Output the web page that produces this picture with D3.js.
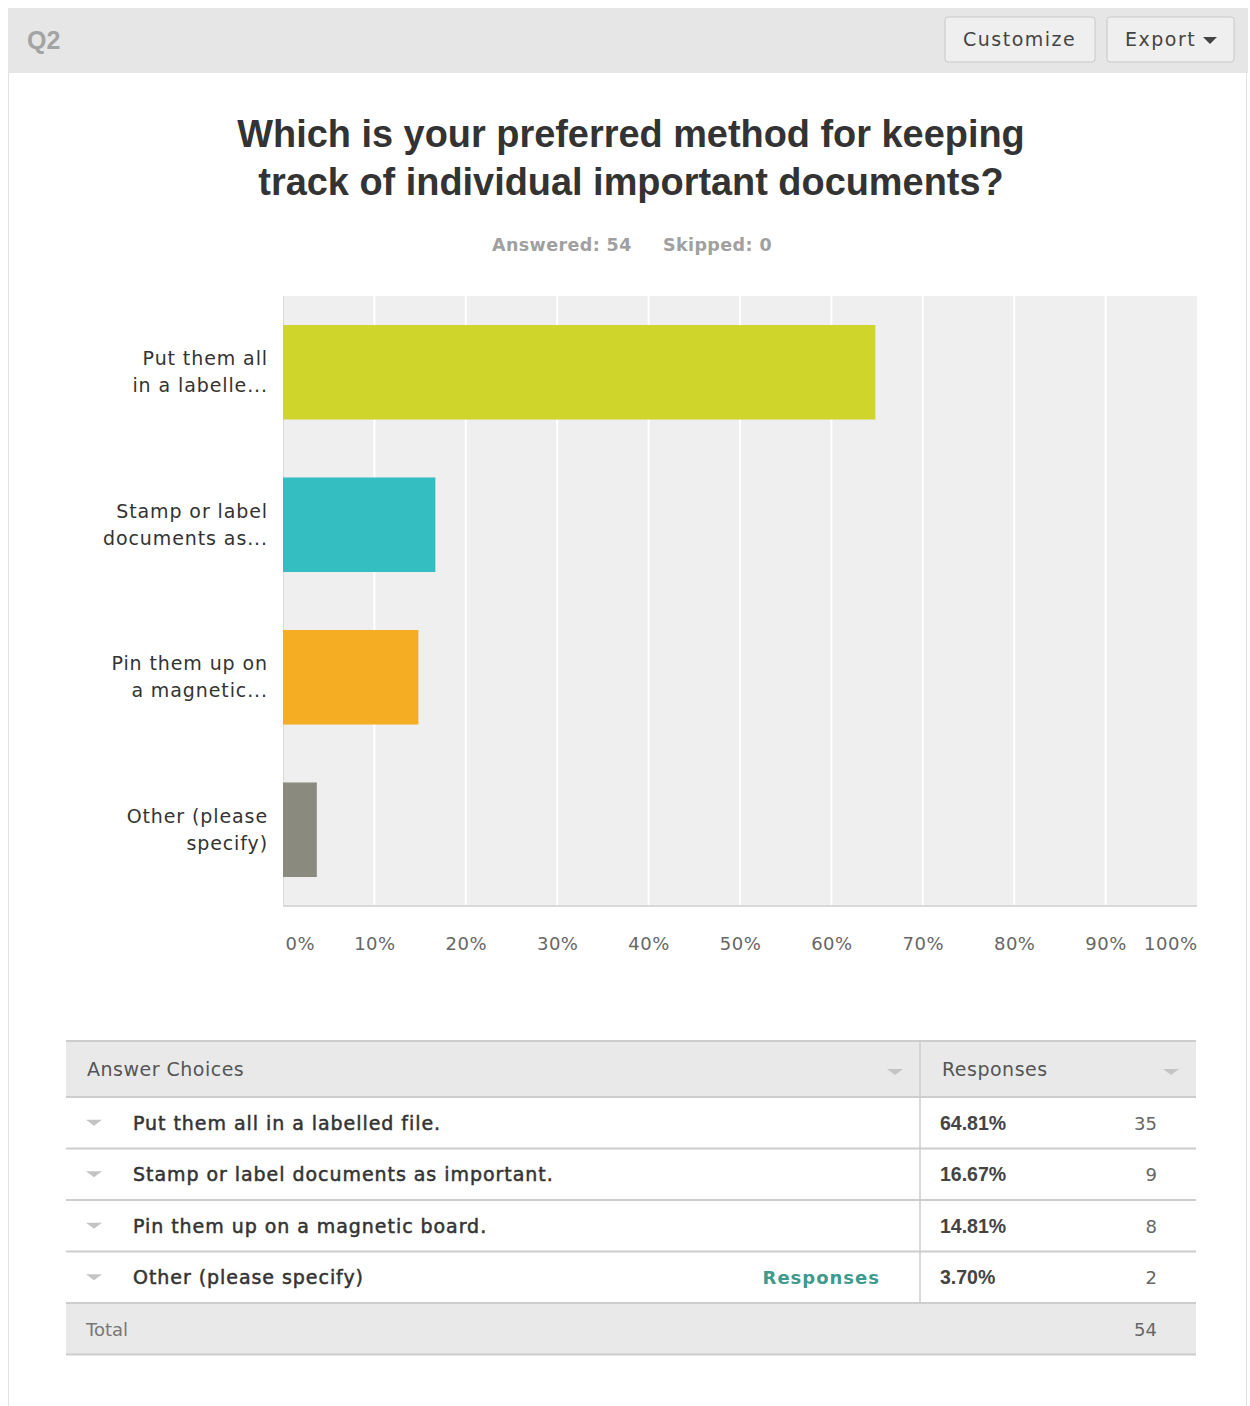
<!DOCTYPE html>
<html>
<head>
<meta charset="utf-8">
<script src="https://cdn.jsdelivr.net/npm/d3@7"></script>
<style>
  html, body { margin: 0; padding: 0; background: #fff; }
  svg { display: block; }
</style>
</head>
<body>
<svg id="chart" width="1250" height="1406"></svg>
<script>
// Survey question Q2 — response shares per answer choice
const shortLabels = [
  ["Put them all", "in a labelle..."],
  ["Stamp or label", "documents as..."],
  ["Pin them up on", "a magnetic..."],
  ["Other (please", "specify)"]
];
const answerChoices = [
  "Put them all in a labelled file.",
  "Stamp or label documents as important.",
  "Pin them up on a magnetic board.",
  "Other (please specify)"
];
const percents = [64.81, 16.67, 14.81, 3.70];
const counts = [35, 9, 8, 2];
const barColors = ["#cfd52a", "#35bec1", "#f5ad23", "#8a8a7e"];
const tickValues = [0, 10, 20, 30, 40, 50, 60, 70, 80, 90, 100];
const answered = 54, skipped = 0, total = 54;

const svg = d3.select("#chart");
const FONT = "'Liberation Sans', Arial, sans-serif";
const TF = "'DejaVu Sans', Verdana, sans-serif";

// panel frame
svg.append("rect").attr("x", 8.5).attr("y", 8.5).attr("width", 1238).attr("height", 1420)
  .attr("fill", "#fff").attr("stroke", "#e2e2e2");
svg.append("rect").attr("x", 8).attr("y", 8).attr("width", 1240).attr("height", 65)
  .attr("fill", "#e6e6e6");
svg.append("text").attr("x", 27).attr("y", 49).text("Q2")
  .attr("font-family", FONT).attr("font-size", 25).attr("font-weight", "bold").attr("fill", "#a3a3a3");

// header buttons
const buttons = [
  { x: 945, w: 150, label: "Customize", caret: false },
  { x: 1107, w: 127, label: "Export", caret: true }
];
const btn = svg.selectAll("g.btn").data(buttons).join("g").attr("class", "btn")
  .attr("transform", d => `translate(${d.x},17)`);
btn.append("rect").attr("width", d => d.w).attr("height", 45).attr("rx", 3)
  .attr("fill", "#efefef").attr("stroke", "#c8c8c8");
btn.append("text").attr("x", 18).attr("y", 29)
  .attr("font-family", TF).attr("font-size", 19).attr("letter-spacing", 1.5).attr("fill", "#444")
  .text(d => d.label);
btn.filter(d => d.caret).append("path").attr("d", "M96,20 L110,20 L103,27 Z").attr("fill", "#444");

// title
svg.append("text").attr("x", 631).attr("text-anchor", "middle")
  .attr("font-family", FONT).attr("font-weight", "bold").attr("font-size", 37.9).attr("fill", "#333")
  .selectAll("tspan").data(["Which is your preferred method for keeping", "track of individual important documents?"])
  .join("tspan").attr("x", 631).attr("y", (d, i) => 147 + i * 48).text(d => d);

svg.append("text").attr("x", 492).attr("y", 251)
  .attr("font-family", TF).attr("font-weight", "bold").attr("font-size", 17.5).attr("letter-spacing", 0.4)
  .attr("fill", "#a0a0a0").text(`Answered: ${answered}`);
svg.append("text").attr("x", 663).attr("y", 251)
  .attr("font-family", TF).attr("font-weight", "bold").attr("font-size", 17.5).attr("letter-spacing", 0.4)
  .attr("fill", "#a0a0a0").text(`Skipped: ${skipped}`);

// bar chart
const plot = { left: 283, right: 1197, top: 296, bottom: 906 };
const x = d3.scaleLinear().domain([0, 100]).range([plot.left, plot.right]);
const y = d3.scaleBand().domain(d3.range(percents.length)).range([plot.top, plot.bottom])
  .paddingInner(0.38).paddingOuter(0.19);

svg.append("rect").attr("x", plot.left).attr("y", plot.top)
  .attr("width", plot.right - plot.left).attr("height", plot.bottom - plot.top).attr("fill", "#efefef");

svg.append("g").selectAll("line").data(tickValues.slice(1, -1)).join("line")
  .attr("x1", d => x(d)).attr("x2", d => x(d)).attr("y1", plot.top).attr("y2", plot.bottom)
  .attr("stroke", "#fff").attr("stroke-width", 2);

svg.append("line").attr("x1", plot.left).attr("x2", plot.right).attr("y1", plot.bottom).attr("y2", plot.bottom)
  .attr("stroke", "#d9d9d9").attr("stroke-width", 2);
svg.append("line").attr("x1", plot.left + 0.5).attr("x2", plot.left + 0.5).attr("y1", plot.top).attr("y2", plot.bottom)
  .attr("stroke", "#dadada");

svg.append("g").selectAll("rect").data(percents).join("rect")
  .attr("x", x(0)).attr("y", (d, i) => y(i))
  .attr("width", d => x(d) - x(0)).attr("height", y.bandwidth())
  .attr("fill", (d, i) => barColors[i]);

// category labels
svg.append("g").selectAll("text").data(shortLabels).join("text")
  .attr("text-anchor", "end").attr("font-family", TF)
  .attr("font-size", 19).attr("letter-spacing", 0.9).attr("fill", "#333")
  .each(function (lines, i) {
    const cy = y(i) + y.bandwidth() / 2;
    d3.select(this).selectAll("tspan").data(lines).join("tspan")
      .attr("x", 268).attr("y", (d, j) => cy - 7 + j * 27).text(d => d);
  });

// x axis
const axis = d3.axisBottom(x).tickValues(tickValues).tickFormat(d => d + "%").tickSize(0).tickPadding(0);
const gx = svg.append("g").attr("transform", `translate(0,${plot.bottom})`).call(axis);
gx.select(".domain").remove();
gx.selectAll("text").attr("font-family", TF).attr("font-size", 18).attr("letter-spacing", 0.5)
  .attr("fill", "#666").attr("dy", 0).attr("y", 44)
  .attr("text-anchor", d => d === 0 ? "start" : d === 100 ? "end" : "middle")
  .attr("dx", d => d === 0 ? 2 : 0);

// response table
const tb = { left: 66, right: 1196, split: 920, top: 1041, headH: 56, rowH: 51.5 };
svg.append("rect").attr("x", tb.left).attr("y", tb.top).attr("width", tb.right - tb.left).attr("height", tb.headH)
  .attr("fill", "#e9e9e9");
const rowsTop = tb.top + tb.headH;
const totalTop = rowsTop + answerChoices.length * tb.rowH;
svg.append("rect").attr("x", tb.left).attr("y", totalTop).attr("width", tb.right - tb.left).attr("height", tb.rowH)
  .attr("fill", "#e9e9e9");

const hLines = [tb.top, rowsTop].concat(d3.range(1, answerChoices.length + 1).map(i => rowsTop + i * tb.rowH), [totalTop + tb.rowH]);
svg.append("g").selectAll("line").data(hLines).join("line")
  .attr("x1", tb.left).attr("x2", tb.right).attr("y1", d => d).attr("y2", d => d)
  .attr("stroke", "#cdcdcd").attr("stroke-width", 2);
svg.append("line").attr("x1", tb.split).attr("x2", tb.split).attr("y1", tb.top).attr("y2", totalTop)
  .attr("stroke", "#cdcdcd").attr("stroke-width", 1.5);

const headY = tb.top + tb.headH / 2 + 7;
svg.append("text").attr("x", 87).attr("y", headY).attr("font-family", TF).attr("font-size", 19)
  .attr("letter-spacing", 0.5).attr("fill", "#555").text("Answer Choices");
svg.append("text").attr("x", 942).attr("y", headY).attr("font-family", TF).attr("font-size", 19)
  .attr("letter-spacing", 0.5).attr("fill", "#555").text("Responses");
svg.append("g").selectAll("path").data([895, 1171]).join("path")
  .attr("d", d => `M${d - 8},${headY - 7} L${d + 8},${headY - 7} L${d},${headY - 1} Z`).attr("fill", "#c4c4c4");

const row = svg.append("g").selectAll("g").data(answerChoices).join("g")
  .attr("transform", (d, i) => `translate(0,${rowsTop + i * tb.rowH + tb.rowH / 2})`);
row.append("path").attr("d", "M86,-3 L102,-3 L94,3 Z").attr("fill", "#c4c4c4");
row.append("text").attr("x", 133).attr("y", 7).attr("font-family", TF).attr("font-size", 19)
  .attr("letter-spacing", 0.95).attr("fill", "#333").attr("stroke", "#333").attr("stroke-width", 0.5).text(d => d);
row.append("text").attr("x", 940).attr("y", 7).attr("font-family", FONT).attr("font-size", 19.5)
  .attr("font-weight", "bold").attr("fill", "#444").text((d, i) => percents[i].toFixed(2) + "%");
row.append("text").attr("x", 1157).attr("y", 7).attr("text-anchor", "end").attr("font-family", TF).attr("font-size", 18)
  .attr("fill", "#666").text((d, i) => counts[i]);
row.filter((d, i) => i === answerChoices.length - 1).append("text")
  .attr("x", 880).attr("y", 7).attr("text-anchor", "end").attr("font-family", TF).attr("font-size", 18)
  .attr("letter-spacing", 1).attr("font-weight", "bold").attr("fill", "#3f9a8e").text("Responses");

svg.append("text").attr("x", 86).attr("y", totalTop + tb.rowH / 2 + 7).attr("font-family", TF).attr("font-size", 18)
  .attr("fill", "#777").text("Total");
svg.append("text").attr("x", 1157).attr("y", totalTop + tb.rowH / 2 + 7).attr("text-anchor", "end")
  .attr("font-family", TF).attr("font-size", 18).attr("fill", "#666").text(total);
</script>
</body>
</html>
